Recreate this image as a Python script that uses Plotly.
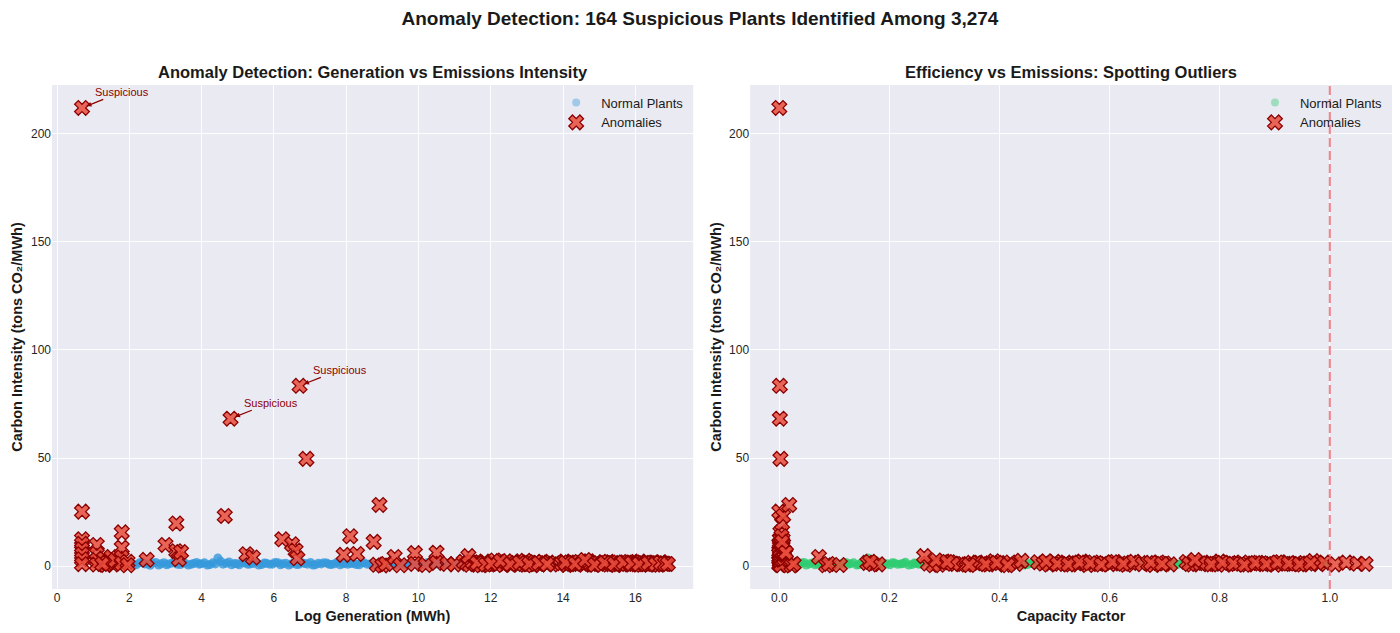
import plotly.graph_objects as go
from plotly.subplots import make_subplots

# ---------------- DATA ----------------
title_main = "Anomaly Detection: 164 Suspicious Plants Identified Among 3,274"
title_left = "Anomaly Detection: Generation vs Emissions Intensity"
title_right = "Efficiency vs Emissions: Spotting Outliers"

norm_loggen = [2.04, 2.19, 2.36, 2.51, 2.64, 2.81, 2.96, 3.09, 3.26, 3.41,
               3.54, 3.71, 3.86, 3.99, 4.16, 4.31, 4.45, 4.59, 4.76, 4.91,
               5.04, 5.21, 5.34, 5.51, 5.66, 5.79, 5.96, 6.11, 6.24, 6.41,
               6.56, 6.69, 6.86, 7.01, 7.14, 7.31, 7.46, 7.59, 7.76, 7.91,
               8.04, 8.21, 8.36, 8.49, 8.66, 8.81, 8.94, 9.11, 9.26, 9.39,
               9.56, 9.71, 9.84, 10.01, 10.16, 10.29, 10.46, 10.61, 10.74, 10.91,
               11.04, 11.21, 11.36, 11.49, 11.66, 11.81, 11.94, 12.11, 12.26, 12.39,
               12.56, 12.71, 12.84, 13.01, 13.16, 13.29, 13.46, 13.61, 13.76, 13.89,
               14.06, 14.21, 14.34, 14.51, 14.66, 14.79, 14.96, 15.11, 15.24, 15.41,
               15.56, 15.69, 15.86, 16.01, 16.14, 16.31, 16.46, 16.59, 16.76, 16.88,
               2.11, 2.28, 2.43, 2.58, 2.73, 2.88, 3.03, 3.18, 3.33, 3.48,
               3.63, 3.78, 3.93, 4.08, 4.23, 4.38, 4.53, 4.68, 4.83, 4.98,
               5.13, 5.28, 5.43, 5.58, 5.73, 5.88, 6.03, 6.18, 6.33, 6.48,
               6.63, 6.78, 6.93, 7.08, 7.23, 7.38, 7.53, 7.68, 7.83, 7.98,
               8.13, 8.28, 8.43, 8.58, 8.73, 8.88, 9.03, 9.18, 9.33, 9.48,
               9.63, 9.78, 9.93, 10.08, 10.23, 10.38, 10.53, 10.68, 10.83, 10.98,
               11.13, 11.28, 11.43, 11.58, 11.73, 11.88, 12.03, 12.18, 12.33, 12.48,
               12.63, 12.78, 12.93, 13.08, 13.23, 13.38, 13.53, 13.68, 13.83, 13.98,
               14.13, 14.28, 14.43, 14.58, 14.73, 14.88, 15.03, 15.18, 15.33, 15.48,
               15.63, 15.78, 15.93, 16.08, 16.23, 16.38, 16.53, 16.68, 16.81, 16.93]
norm_cf = [0.004, 0.012, 0.021, 0.029, 0.041, 0.049, 0.061, 0.069, 0.081, 0.089,
           0.101, 0.109, 0.121, 0.129, 0.141, 0.149, 0.161, 0.169, 0.181, 0.189,
           0.201, 0.209, 0.221, 0.229, 0.241, 0.249, 0.258, 0.271, 0.279, 0.291,
           0.299, 0.311, 0.319, 0.331, 0.339, 0.351, 0.359, 0.371, 0.379, 0.391,
           0.399, 0.411, 0.419, 0.431, 0.439, 0.451, 0.459, 0.471, 0.479, 0.491,
           0.499, 0.511, 0.519, 0.531, 0.539, 0.551, 0.559, 0.571, 0.579, 0.591,
           0.599, 0.611, 0.619, 0.631, 0.639, 0.651, 0.659, 0.671, 0.679, 0.691,
           0.699, 0.711, 0.719, 0.731, 0.739, 0.751, 0.759, 0.771, 0.779, 0.791,
           0.799, 0.811, 0.819, 0.831, 0.839, 0.851, 0.859, 0.871, 0.879, 0.891,
           0.899, 0.911, 0.919, 0.931, 0.939, 0.951, 0.959, 0.971, 0.979, 0.991,
           0.008, 0.016, 0.025, 0.035, 0.045, 0.055, 0.065, 0.075, 0.085, 0.095,
           0.105, 0.115, 0.125, 0.135, 0.145, 0.155, 0.165, 0.175, 0.185, 0.195,
           0.205, 0.215, 0.225, 0.235, 0.245, 0.253, 0.264, 0.275, 0.285, 0.295,
           0.305, 0.315, 0.325, 0.335, 0.345, 0.355, 0.365, 0.375, 0.385, 0.395,
           0.405, 0.415, 0.425, 0.435, 0.445, 0.455, 0.465, 0.475, 0.485, 0.495,
           0.505, 0.515, 0.525, 0.535, 0.545, 0.555, 0.565, 0.575, 0.585, 0.595,
           0.605, 0.615, 0.625, 0.635, 0.645, 0.655, 0.665, 0.675, 0.685, 0.695,
           0.705, 0.715, 0.725, 0.735, 0.745, 0.755, 0.765, 0.775, 0.785, 0.795,
           0.805, 0.815, 0.825, 0.835, 0.845, 0.855, 0.865, 0.875, 0.885, 0.895,
           0.905, 0.915, 0.925, 0.935, 0.945, 0.955, 0.965, 0.975, 0.985, 0.995]
norm_intensity = [1.2, 0.6, 1.8, 0.9, 1.4, 0.5, 1.6, 1.0, 2.0, 0.7,
                  1.3, 0.8, 1.7, 1.1, 0.5, 1.5, 3.8, 0.9, 1.9, 1.2,
                  0.6, 1.4, 1.0, 1.8, 0.7, 1.3, 0.9, 1.6, 1.1, 0.5,
                  1.5, 0.8, 1.2, 1.7, 0.6, 1.0, 1.4, 0.7, 1.9, 1.1,
                  0.8, 1.3, 0.6, 1.6, 1.0, 0.7, 1.2, 0.9, 1.5, 0.6,
                  1.1, 0.8, 1.4, 1.0, 0.7, 1.3, 0.9, 1.2, 0.6, 1.0,
                  1.3, 0.8, 1.1, 0.7, 1.2, 0.9, 1.4, 0.6, 1.0, 1.2,
                  0.8, 1.1, 0.7, 1.3, 0.9, 1.0, 1.2, 0.6, 1.1, 0.8,
                  1.0, 1.3, 0.7, 1.1, 0.9, 1.2, 0.6, 1.0, 0.8, 1.1,
                  0.9, 1.2, 0.7, 1.0, 0.8, 1.1, 0.9, 1.0, 0.7, 0.9,
                  0.7, 1.5, 1.0, 0.4, 1.7, 1.1, 0.6, 1.4, 0.8, 1.6,
                  0.5, 1.2, 0.9, 1.5, 0.7, 1.0, 2.2, 1.3, 0.6, 1.1,
                  1.6, 0.8, 1.2, 0.5, 1.4, 0.9, 1.7, 0.6, 1.3, 1.0,
                  0.7, 1.5, 0.9, 0.5, 1.3, 1.6, 0.8, 1.1, 0.6, 1.4,
                  1.2, 0.7, 1.5, 0.9, 0.5, 1.3, 1.0, 1.4, 0.8, 1.1,
                  0.6, 1.3, 0.9, 1.2, 1.5, 0.8, 1.1, 0.6, 1.4, 0.9,
                  0.7, 1.2, 1.0, 1.3, 0.6, 1.0, 0.8, 1.3, 0.7, 1.1,
                  1.3, 0.6, 0.9, 1.0, 1.2, 0.7, 0.9, 1.1, 0.8, 1.0,
                  0.8, 1.1, 1.0, 0.8, 1.2, 0.9, 1.0, 0.8, 1.1, 0.7,
                  1.1, 0.8, 1.0, 0.9, 1.1, 0.8, 1.0, 0.9, 0.8, 1.0]

# Anomalies (log generation, carbon intensity, capacity factor)
anom_loggen = [0.69, 0.69, 0.69, 0.69, 0.69, 0.69, 0.69, 0.69, 1.10, 1.10,
               1.10, 1.10, 1.30, 1.35, 1.45, 1.50, 1.55, 1.39, 1.61, 1.25,
               1.79, 1.79, 1.79, 1.79, 1.95, 1.95, 2.48, 3.00, 3.30, 3.30,
               3.37, 3.43, 4.64, 4.80, 5.24, 5.42, 6.23, 6.50, 6.60, 6.65,
               6.71, 6.90, 7.93, 8.11, 8.30, 8.76, 8.92, 8.85, 9.00, 9.10,
               9.34, 9.50, 9.90, 9.90, 10.20, 10.50, 10.50, 10.80, 11.00, 11.25,
               11.35, 11.42, 11.50, 11.58, 11.66, 11.74, 11.82, 11.90, 11.97, 12.05,
               12.12, 12.20, 12.35, 12.42, 12.50, 12.58, 12.63, 12.70, 12.76, 12.83,
               12.90, 12.96, 13.03, 13.10, 13.17, 13.23, 13.30, 13.36, 13.44, 13.52,
               13.60, 13.90, 13.97, 14.04, 14.10, 14.17, 14.24, 14.31, 14.38, 14.45,
               14.52, 14.58, 14.64, 14.71, 14.78, 14.85, 14.92, 14.99, 15.05, 15.12,
               15.19, 15.26, 15.33, 15.40, 15.46, 15.52, 15.58, 15.64, 15.70, 15.76,
               15.82, 15.88, 15.93, 15.98, 16.03, 16.08, 16.13, 16.18, 16.23, 16.28,
               16.33, 16.38, 16.43, 16.48, 16.54, 16.60, 16.66, 16.72, 16.78, 16.85,
               11.38, 11.62, 11.86, 12.02, 12.27, 12.54, 12.80, 13.06, 13.33, 13.56,
               14.07, 14.34, 14.61, 14.88, 15.15, 15.42, 15.67, 15.90, 16.10, 16.36,
               16.56, 16.70, 16.82, 16.90]
anom_intensity = [212.0, 25.2, 12.4, 10.3, 7.8, 5.5, 3.2, 0.9, 9.8, 5.6,
                  2.8, 0.7, 3.5, 0.5, 2.0, 4.2, 0.8, 1.6, 2.6, 1.0,
                  15.6, 8.5, 4.0, 1.2, 2.0, 0.4, 2.9, 9.8, 19.7, 6.9,
                  3.2, 6.5, 23.2, 68.2, 5.5, 4.0, 12.4, 10.1, 7.2, 3.6,
                  83.4, 49.6, 5.2, 13.8, 5.6, 11.2, 28.3, 0.6, 0.3, 1.0,
                  4.2, 0.4, 6.0, 1.0, 0.5, 6.2, 1.5, 1.0, 0.8, 2.0,
                  1.2, 0.6, 1.8, 0.9, 1.5, 0.4, 2.1, 1.0, 0.7, 1.6,
                  2.6, 1.1, 0.5, 1.9, 1.3, 0.8, 2.2, 1.4, 0.6, 1.7,
                  1.0, 2.4, 0.9, 1.5, 0.4, 1.8, 1.2, 0.7, 2.0, 1.1,
                  1.6, 0.8, 1.3, 2.1, 0.5, 1.7, 1.0, 1.4, 0.9, 1.9,
                  1.2, 0.6, 1.5, 2.2, 1.0, 0.8, 1.6, 1.3, 0.7, 1.8,
                  1.1, 2.0, 0.9, 1.4, 0.5, 1.7, 1.2, 0.8, 1.5, 1.0,
                  1.9, 0.7, 1.3, 1.6, 0.9, 1.1, 2.1, 0.6, 1.4, 1.0,
                  1.7, 0.8, 1.2, 1.5, 0.9, 1.3, 0.6, 1.8, 1.1, 1.0,
                  4.6, 1.4, 0.7, 1.2, 2.3, 0.9, 1.6, 1.0, 1.3, 0.8,
                  1.5, 1.1, 2.8, 0.6, 1.4, 1.0, 1.7, 1.2, 0.9, 1.3,
                  0.8, 1.6, 1.1, 1.0]
anom_cf = [0.000, 0.000, 0.001, 0.000, 0.001, 0.000, 0.000, 0.001, 0.001, 0.000,
           0.001, 0.000, 0.001, 0.002, 0.001, 0.002, 0.001, 0.002, 0.002, 0.001,
           0.002, 0.003, 0.002, 0.003, 0.003, 0.003, 0.004, 0.005, 0.005, 0.006,
           0.006, 0.006, 0.007, 0.001, 0.008, 0.008, 0.006, 0.007, 0.008, 0.009,
           0.001, 0.002, 0.010, 0.004, 0.011, 0.005, 0.018, 0.024, 0.022, 0.026,
           0.072, 0.085, 0.011, 0.090, 0.110, 0.012, 0.160, 0.170, 0.180, 0.165,
           0.270, 0.290, 0.310, 0.330, 0.350, 0.280, 0.300, 0.320, 0.340, 0.360,
           0.285, 0.315, 0.345, 0.305, 0.370, 0.380, 0.390, 0.400, 0.410, 0.420,
           0.430, 0.440, 0.375, 0.395, 0.415, 0.470, 0.480, 0.490, 0.500, 0.510,
           0.520, 0.530, 0.540, 0.550, 0.560, 0.570, 0.580, 0.590, 0.600, 0.610,
           0.620, 0.630, 0.640, 0.485, 0.505, 0.525, 0.545, 0.565, 0.585, 0.605,
           0.625, 0.645, 0.660, 0.670, 0.680, 0.690, 0.700, 0.710, 0.675, 0.695,
           0.740, 0.750, 0.760, 0.770, 0.780, 0.790, 0.800, 0.810, 0.820, 0.830,
           0.840, 0.850, 0.860, 0.870, 0.880, 0.890, 0.900, 0.910, 0.920, 0.930,
           0.263, 0.940, 0.950, 0.960, 0.970, 0.980, 0.990, 0.745, 0.765, 0.785,
           0.805, 0.825, 0.755, 0.845, 0.865, 0.885, 0.905, 0.925, 0.945, 0.965,
           1.010, 1.030, 1.050, 1.065]

# Flagged points with labels (log generation, intensity)
susp_loggen = [0.69, 4.80, 6.71]
susp_intensity = [212.0, 68.2, 83.4]
susp_label = "Suspicious"
threshold_cf = 1.0

# ---------------- FIGURE ----------------
FONT = "Liberation Sans, Arial, sans-serif"
BG = "#EAEAF2"
blue = "rgba(52,152,219,0.8)"
blue_legend = "rgba(52,152,219,0.4)"
green = "rgba(46,204,113,0.8)"
green_legend = "rgba(46,204,113,0.4)"
red_fill = "rgba(231,76,60,0.85)"
dark_red = "#8B0000"

fig = make_subplots(rows=1, cols=2, horizontal_spacing=0.0425)

anom_marker = dict(symbol="x", size=13, color=red_fill,
                   line=dict(color=dark_red, width=1.3))

# Left panel
fig.add_trace(go.Scatter(x=norm_loggen, y=norm_intensity, mode="markers",
                         name="Normal Plants", showlegend=False,
                         marker=dict(size=9, color=blue, line=dict(width=0))),
              row=1, col=1)
fig.add_trace(go.Scatter(x=anom_loggen, y=anom_intensity, mode="markers",
                         name="Anomalies", showlegend=False, marker=anom_marker),
              row=1, col=1)
# legend entries (left)
fig.add_trace(go.Scatter(x=[None], y=[None], mode="markers", name="Normal Plants",
                         legend="legend",
                         marker=dict(size=8, color=blue_legend, line=dict(width=0))),
              row=1, col=1)
fig.add_trace(go.Scatter(x=[None], y=[None], mode="markers", name="Anomalies",
                         legend="legend", marker=anom_marker),
              row=1, col=1)

# Right panel
fig.add_trace(go.Scatter(x=norm_cf, y=norm_intensity, mode="markers",
                         name="Normal Plants", showlegend=False,
                         marker=dict(size=9, color=green, line=dict(width=0))),
              row=1, col=2)
fig.add_trace(go.Scatter(x=anom_cf, y=anom_intensity, mode="markers",
                         name="Anomalies", showlegend=False, marker=anom_marker),
              row=1, col=2)
fig.add_trace(go.Scatter(x=[None], y=[None], mode="markers", name="Normal Plants",
                         legend="legend2",
                         marker=dict(size=8, color=green_legend, line=dict(width=0))),
              row=1, col=2)
fig.add_trace(go.Scatter(x=[None], y=[None], mode="markers", name="Anomalies",
                         legend="legend2", marker=anom_marker),
              row=1, col=2)

fig.add_shape(type="line", x0=threshold_cf, x1=threshold_cf, y0=0, y1=1,
              xref="x2", yref="y2 domain",
              line=dict(color="rgba(240,90,95,0.75)", width=2, dash="9px,4px"),
              layer="above")

for xv, yv in zip(susp_loggen, susp_intensity):
    fig.add_annotation(x=xv, y=yv, xref="x", yref="y", text=susp_label,
                       showarrow=True, ax=40, ay=-16, arrowhead=2, arrowsize=0.8,
                       arrowwidth=1.2, arrowcolor=dark_red, standoff=5,
                       font=dict(family=FONT, size=11, color=dark_red))

# Subplot titles
left_dom = [0.0, 0.4785]
right_dom = [0.521, 1.0]
fig.add_annotation(x=sum(left_dom) / 2, y=1.026, xref="paper", yref="paper",
                   text="<b>" + title_left + "</b>", showarrow=False,
                   xanchor="center", yanchor="middle",
                   font=dict(family=FONT, size=16.5, color="#1a1a1a"))
fig.add_annotation(x=sum(right_dom) / 2, y=1.026, xref="paper", yref="paper",
                   text="<b>" + title_right + "</b>", showarrow=False,
                   xanchor="center", yanchor="middle",
                   font=dict(family=FONT, size=16.5, color="#1a1a1a"))

axis_common = dict(showgrid=True, gridcolor="rgba(255,255,255,0.9)", gridwidth=1,
                   zeroline=False, showline=False, ticks="",
                   tickfont=dict(family=FONT, size=12, color="#262626"))
ytitle = "<b>Carbon Intensity (tons CO₂/MWh)</b>"

fig.update_xaxes(domain=left_dom, range=[-0.14, 17.6], tickvals=[0, 2, 4, 6, 8, 10, 12, 14, 16],
                 title=dict(text="<b>Log Generation (MWh)</b>", standoff=6,
                            font=dict(family=FONT, size=14.5, color="#1a1a1a")),
                 **axis_common, row=1, col=1)
fig.update_xaxes(domain=right_dom, range=[-0.053, 1.113], tickvals=[0.0, 0.2, 0.4, 0.6, 0.8, 1.0],
                 ticktext=["0.0", "0.2", "0.4", "0.6", "0.8", "1.0"],
                 title=dict(text="<b>Capacity Factor</b>", standoff=6,
                            font=dict(family=FONT, size=14.5, color="#1a1a1a")),
                 **axis_common, row=1, col=2)
for c in (1, 2):
    fig.update_yaxes(range=[-10.6, 222.6], tickvals=[0, 50, 100, 150, 200],
                     title=dict(text=ytitle, standoff=4,
                                font=dict(family=FONT, size=14.5, color="#1a1a1a")),
                     **axis_common, row=1, col=c)

legend_common = dict(bgcolor="rgba(0,0,0,0)", borderwidth=0,
                     font=dict(family=FONT, size=13, color="#1a1a1a"),
                     xanchor="right", yanchor="top", y=0.995, itemwidth=40,
                     tracegroupgap=0)

fig.update_layout(
    width=1400, height=633,
    margin=dict(l=52, r=8, t=85, b=44),
    paper_bgcolor="white", plot_bgcolor=BG,
    font=dict(family=FONT, color="#1a1a1a"),
    title=dict(text="<b>" + title_main + "</b>", x=0.5, xanchor="center",
               y=1 - 18 / 633, yanchor="middle", yref="container",
               font=dict(family=FONT, size=19, color="#1a1a1a")),
    legend=dict(x=left_dom[1] - 0.003, **legend_common),
    legend2=dict(x=right_dom[1] - 0.003, **legend_common),
    showlegend=True,
)

fig.write_html("out.html")
